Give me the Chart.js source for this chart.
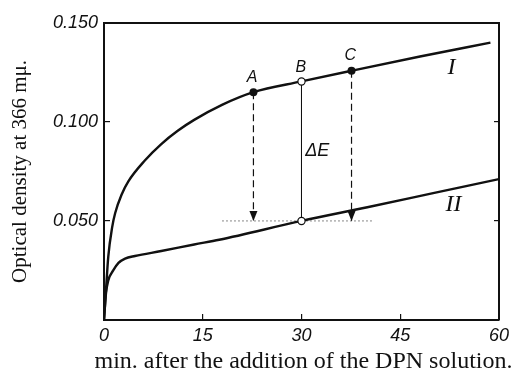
<!DOCTYPE html>
<html>
<head>
<meta charset="utf-8">
<style>
  html, body { margin: 0; padding: 0; background: #fff; }
  #chart { display: block; }
</style>
<script src="https://cdn.jsdelivr.net/npm/chart.js@4/dist/chart.umd.min.js"></script>
</head>
<body>
<canvas id="chart" width="520" height="376"></canvas>
<script>
// curve I (upper) and curve II (lower)
const timeI = [0, 0.3, 0.65, 1.25, 1.7, 2.7, 3.7, 6.2, 8.7, 11.2, 13.7, 18, 22.7, 30, 37.6, 48, 58.7];
const densityI = [0, 0.015, 0.032, 0.047, 0.054, 0.0635, 0.070, 0.0805, 0.0888, 0.0955, 0.101, 0.1087, 0.115, 0.1204, 0.1258, 0.133, 0.140];

const timeII = [0, 0.3, 0.65, 1.4, 2.2, 3.2, 4.7, 8.7, 13.7, 17.5, 30, 40, 50, 60];
const densityII = [0, 0.0134, 0.020, 0.025, 0.0288, 0.031, 0.0323, 0.0348, 0.0381, 0.0405, 0.050, 0.0569, 0.064, 0.0711];

// points A, B, C on curve I and the reference level on curve II
const markerNames = ['A', 'B', 'C'];
const markerTime = [22.7, 30, 37.6];
const markerDensity = [0.115, 0.1204, 0.1258];
const baseLevel = 0.050;
const levelFrom = 18;
const levelTo = 41;

const xTicks = [0, 15, 30, 45, 60];
const yTicks = [0.05, 0.10, 0.15];
const xTitle = 'min. after the addition of the DPN solution.';
const yTitle = 'Optical density at 366 mμ.';

// text placed on the plot (data units)
const noteText = ['A', 'B', 'C', 'I', 'II', 'ΔE'];
const noteTime = [22.5, 29.9, 37.4, 52.8, 53.1, 32.4];
const noteDensity = [0.1224, 0.1274, 0.1335, 0.1274, 0.0582, 0.0853];

const pts = (xs, ys) => xs.map((x, i) => ({ x, y: ys[i] }));
const ink = '#111';

// vertical drop lines from A, B, C down to the base level
const drop = i => [{ x: markerTime[i], y: markerDensity[i] }, { x: markerTime[i], y: baseLevel }];

const datasets = [
  { // open circles B and B'
    data: [{ x: markerTime[1], y: markerDensity[1] }, { x: markerTime[1], y: baseLevel }],
    showLine: false, pointRadius: 3.6, pointBackgroundColor: '#fff',
    pointBorderColor: ink, pointBorderWidth: 1.2
  },
  { // filled dots A and C
    data: [{ x: markerTime[0], y: markerDensity[0] }, { x: markerTime[2], y: markerDensity[2] }],
    showLine: false, pointRadius: 4, pointBackgroundColor: ink,
    pointBorderColor: ink, pointBorderWidth: 0
  },
  { data: drop(0), borderColor: ink, borderWidth: 1.2, borderDash: [7, 4], pointRadius: 0 },
  { data: drop(2), borderColor: ink, borderWidth: 1.2, borderDash: [7, 4], pointRadius: 0 },
  { data: drop(1), borderColor: ink, borderWidth: 1, pointRadius: 0 },
  { data: [{ x: levelFrom, y: baseLevel }, { x: levelTo, y: baseLevel }],
    borderColor: ink, borderWidth: 1, borderDash: [1, 3], pointRadius: 0 },
  { data: pts(timeI, densityI), borderColor: ink, borderWidth: 2.4,
    cubicInterpolationMode: 'monotone', pointRadius: 0 },
  { data: pts(timeII, densityII), borderColor: ink, borderWidth: 2.4,
    cubicInterpolationMode: 'monotone', pointRadius: 0 }
];

// white page, arrow heads, in-plot letters and the x title (wider than the axis)
const overlay = {
  id: 'overlay',
  beforeDraw(chart) {
    const c = chart.ctx;
    c.save();
    c.fillStyle = '#fff';
    c.fillRect(0, 0, chart.width, chart.height);
    c.restore();
  },
  afterDatasetsDraw(chart) {
    const c = chart.ctx, xs = chart.scales.x, ys = chart.scales.y;
    c.save();
    c.fillStyle = ink;
    [0, 2].forEach(i => {
      const px = xs.getPixelForValue(markerTime[i]);
      const py = ys.getPixelForValue(baseLevel);
      c.beginPath();
      c.moveTo(px, py);
      c.lineTo(px - 4, py - 10);
      c.lineTo(px + 4, py - 10);
      c.closePath();
      c.fill();
    });
    c.textAlign = 'center';
    c.textBaseline = 'middle';
    noteText.forEach((t, i) => {
      if (t === 'I' || t === 'II') c.font = 'italic 24px "Liberation Serif"';
      else if (t === 'ΔE') c.font = 'italic 18px "Liberation Sans"';
      else c.font = 'italic 16px "Liberation Sans"';
      c.fillText(t, xs.getPixelForValue(noteTime[i]), ys.getPixelForValue(noteDensity[i]));
    });
    c.font = '24px "Liberation Serif"';
    c.textBaseline = 'alphabetic';
    c.fillText(xTitle, (xs.left + xs.right) / 2 + 2, 368);
    c.restore();
  }
};

const tickFont = { family: 'Liberation Sans', size: 18, style: 'italic' };

new Chart(document.getElementById('chart'), {
  type: 'line',
  data: { datasets },
  options: {
    responsive: false,
    animation: false,
    events: [],
    layout: { padding: 0 },
    plugins: { legend: { display: false }, tooltip: { enabled: false } },
    scales: {
      x: {
        type: 'linear', position: 'bottom', min: 0, max: 60,
        afterBuildTicks: s => { s.ticks = xTicks.map(v => ({ value: v })); },
        afterFit: s => { s.height = 56; },
        ticks: { color: ink, font: tickFont, padding: 11, maxRotation: 0 },
        grid: { drawOnChartArea: false, drawTicks: true, tickLength: -6, tickColor: ink, lineWidth: 1.2 },
        border: { display: true, color: ink, width: 2 }
      },
      y: {
        type: 'linear', position: 'left', min: 0, max: 0.15,
        afterBuildTicks: s => { s.ticks = [0].concat(yTicks).map(v => ({ value: v })); },
        afterFit: s => { s.width = 104; },
        ticks: {
          color: ink, font: tickFont, padding: 12,
          callback: v => (v === 0 ? '' : v.toFixed(3))
        },
        grid: { drawOnChartArea: false, drawTicks: true, tickLength: -6, tickColor: ink, lineWidth: 1.2 },
        border: { display: true, color: ink, width: 2 },
        title: {
          display: true, text: yTitle,
          color: ink, font: { family: 'Liberation Serif', size: 21 }, padding: { top: 8, bottom: 8 }
        }
      },
      x2: {
        type: 'linear', position: 'top', min: 0, max: 60,
        afterFit: s => { s.height = 21; },
        ticks: { display: false },
        grid: { display: false },
        border: { display: true, color: ink, width: 2 }
      },
      y2: {
        type: 'linear', position: 'right', min: 0, max: 0.15,
        afterBuildTicks: s => { s.ticks = yTicks.map(v => ({ value: v })); },
        afterFit: s => { s.width = 18; },
        ticks: { display: false },
        grid: { drawOnChartArea: false, drawTicks: true, tickLength: -5, tickColor: ink, lineWidth: 1.2 },
        border: { display: true, color: ink, width: 2 }
      }
    }
  },
  plugins: [overlay]
});
</script>
</body>
</html>
